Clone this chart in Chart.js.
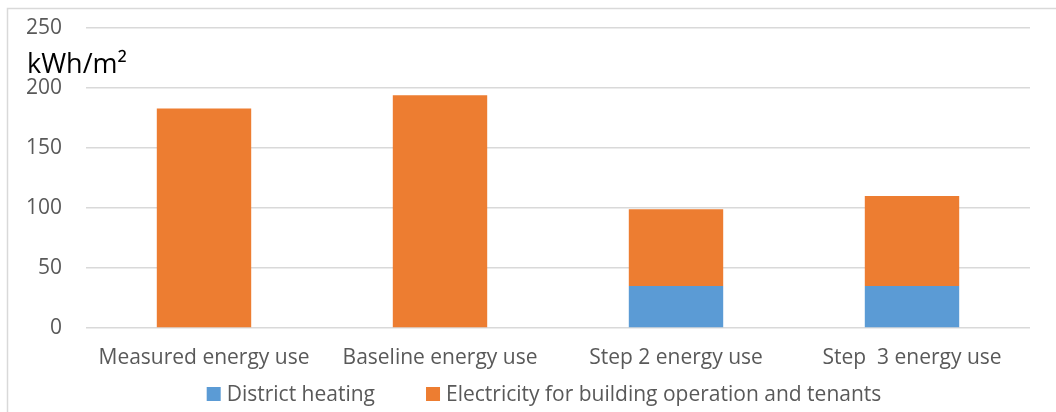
<!DOCTYPE html>
<html>
<head>
<meta charset="utf-8">
<script src="https://cdn.jsdelivr.net/npm/chart.js@4/dist/chart.umd.min.js"></script>
<style>
  html, body { margin: 0; padding: 0; background: #fff; }
  #wrap { width: 1056px; height: 412px; position: relative; }
</style>
</head>
<body>
<div id="wrap"><canvas id="c" width="1056" height="412"></canvas></div>
<script>
// Energy use per heated floor area, by scenario
const categories = ['Measured energy use', 'Baseline energy use', 'Step 2 energy use', 'Step  3 energy use'];
const districtHeating = [0, 0, 35, 35];
const electricity = [183, 194, 64, 75];
const yTicks = [0, 50, 100, 150, 200, 250];
const seriesNames = ['District heating', 'Electricity for building operation and tenants'];
const unitLabel = 'kWh/m²';

const FONT = '"Open Sans", "Liberation Sans", sans-serif';
const TEXT = '#595959';
const GRID = '#d9d9d9';

// Thin frame around the chart (top and left edges visible)
const framePlugin = {
  id: 'frame',
  beforeDraw(chart) {
    const ctx = chart.ctx;
    ctx.save();
    ctx.strokeStyle = GRID;
    ctx.lineWidth = 1.5;
    ctx.beginPath();
    ctx.moveTo(7.5, chart.height);
    ctx.lineTo(7.5, 8.5);
    ctx.lineTo(chart.width, 8.5);
    ctx.stroke();
    ctx.restore();
  }
};

// Unit caption above the value axis
const unitPlugin = {
  id: 'unit',
  afterDraw(chart) {
    const ctx = chart.ctx;
    ctx.save();
    ctx.fillStyle = '#000';
    ctx.font = '27px ' + FONT;
    ctx.textBaseline = 'alphabetic';
    ctx.textAlign = 'left';
    ctx.fillText(unitLabel, 27, 73);
    ctx.restore();
  }
};

// Legend row along the bottom
const legendPlugin = {
  id: 'bottomLegend',
  afterDraw(chart) {
    const ctx = chart.ctx;
    const box = 14, gap = 6, spacing = 51;
    ctx.save();
    ctx.font = '21px ' + FONT;
    const items = chart.data.datasets.map(d => ({ label: d.label, color: d.backgroundColor }));
    const widths = items.map(it => box + gap + ctx.measureText(it.label).width);
    const total = widths.reduce((a, b) => a + b, 0) + spacing * (items.length - 1);
    let x = 544 - total / 2;
    const y = 394;
    items.forEach((it, i) => {
      ctx.fillStyle = it.color;
      ctx.fillRect(x, y - box / 2, box, box);
      ctx.fillStyle = TEXT;
      ctx.textBaseline = 'middle';
      ctx.textAlign = 'left';
      ctx.fillText(it.label, x + box + gap, y + 1);
      x += widths[i] + spacing;
    });
    ctx.restore();
  }
};

new Chart(document.getElementById('c'), {
  type: 'bar',
  data: {
    labels: categories,
    datasets: [
      { label: seriesNames[0], data: districtHeating, backgroundColor: '#5B9BD5', borderWidth: 0 },
      { label: seriesNames[1], data: electricity, backgroundColor: '#ED7D31', borderWidth: 0 }
    ]
  },
  options: {
    responsive: false,
    animation: false,
    devicePixelRatio: 1,
    layout: { padding: { left: 0, right: 26, top: 28, bottom: 0 } },
    datasets: { bar: { categoryPercentage: 1.0, barPercentage: 0.4 } },
    plugins: {
      legend: { display: false },
      tooltip: { enabled: false }
    },
    scales: {
      x: {
        stacked: true,
        grid: { display: false, drawTicks: false },
        border: { display: false },
        ticks: { color: TEXT, font: { family: FONT, size: 21 }, padding: 17, maxRotation: 0, autoSkip: false },
        afterFit(s) { s.height = 84; }
      },
      y: {
        stacked: true,
        min: yTicks[0],
        max: yTicks[yTicks.length - 1],
        afterBuildTicks(s) { s.ticks = yTicks.map(v => ({ value: v })); },
        grid: { color: GRID, lineWidth: 1.5, drawTicks: false },
        border: { display: false },
        ticks: { color: TEXT, font: { family: FONT, size: 21 }, padding: 24 },
        afterFit(s) { s.width = 86; s.paddingTop = 0; s.paddingBottom = 0; }
      }
    }
  },
  plugins: [framePlugin, unitPlugin, legendPlugin]
});
</script>
</body>
</html>
